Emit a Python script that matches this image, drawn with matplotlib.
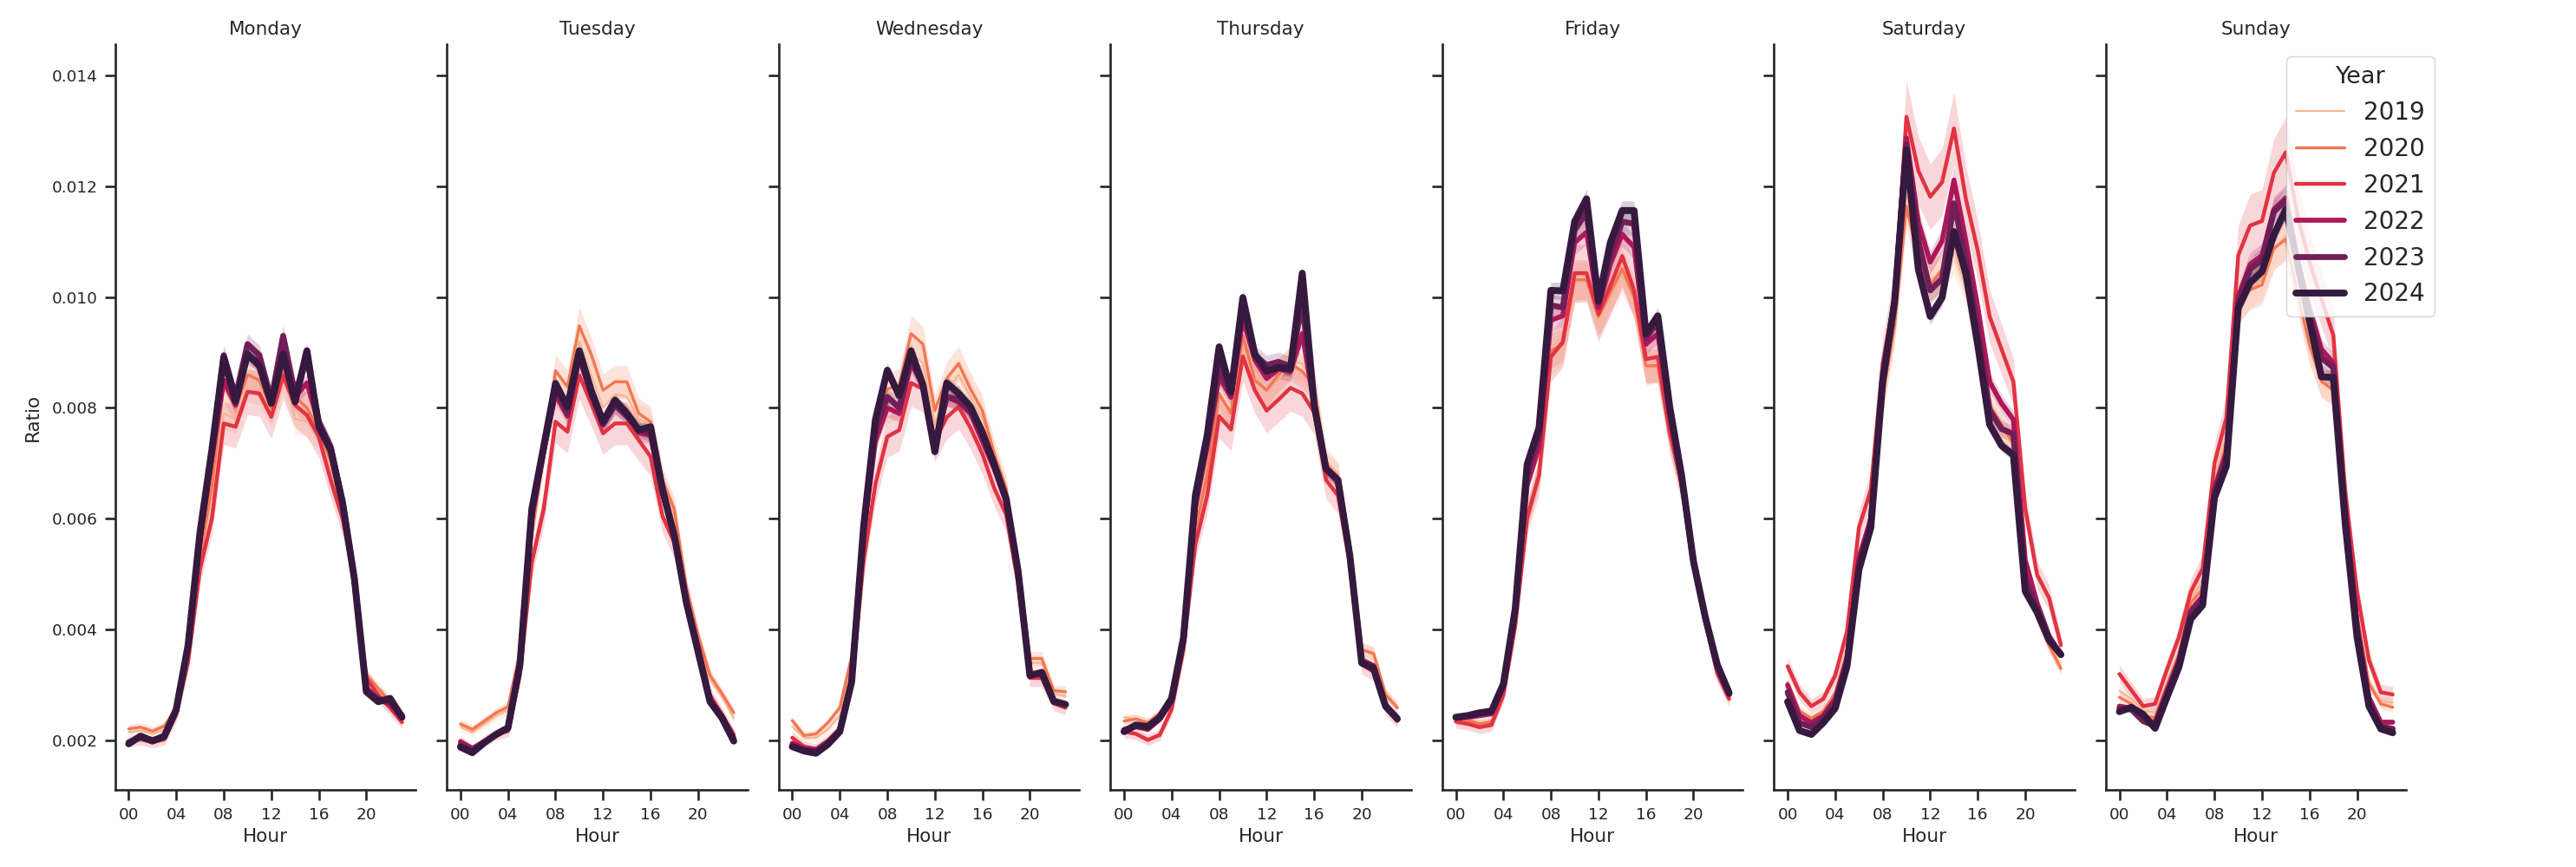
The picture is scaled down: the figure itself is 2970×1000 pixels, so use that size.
import numpy as np
import matplotlib.pyplot as plt

# Hourly share of daily volume, in units of 1e-4
hours = list(range(24))
days = ["Monday", "Tuesday", "Wednesday", "Thursday", "Friday", "Saturday", "Sunday"]
years = [2019, 2020, 2021, 2022, 2023, 2024]

monday = {
    2019: [21.5, 21.8, 21.2, 21.9, 25.5, 34.5, 52.0, 64.0, 79.0, 78.0, 84.0, 83.5, 79.5, 86.0, 78.0, 77.5, 75.0, 69.5, 61.0, 48.5, 31.5, 29.0, 27.0, 25.0],
    2020: [22.1, 22.4, 21.7, 22.6, 25.8, 35.5, 53.0, 66.0, 84.0, 80.0, 86.0, 85.0, 80.0, 87.0, 82.0, 80.0, 76.0, 70.5, 61.0, 48.5, 31.8, 29.4, 27.0, 24.7],
    2021: [19.8, 20.2, 19.7, 20.2, 24.7, 34.2, 50.9, 60.0, 77.2, 76.6, 82.9, 82.6, 78.4, 85.8, 80.5, 78.7, 74.8, 67.0, 60.0, 49.0, 31.2, 28.2, 25.9, 23.3],
    2022: [19.8, 20.5, 20.2, 20.5, 25.0, 36.5, 56.0, 71.0, 85.0, 80.5, 89.5, 88.5, 81.0, 90.0, 82.0, 84.5, 77.0, 72.5, 62.5, 49.0, 29.5, 27.5, 26.5, 24.0],
    2023: [19.6, 20.6, 20.0, 20.6, 25.5, 37.0, 57.0, 72.0, 89.5, 82.0, 91.5, 89.5, 81.5, 93.0, 82.5, 89.0, 77.5, 73.0, 63.0, 49.0, 29.0, 27.5, 27.0, 24.5],
    2024: [19.4, 20.8, 19.9, 20.8, 25.6, 37.2, 57.5, 72.4, 89.1, 81.1, 89.7, 87.6, 80.8, 89.7, 81.1, 90.3, 76.6, 72.4, 62.9, 49.1, 28.8, 27.0, 27.6, 24.2],
}
tuesday = {
    2019: [22.5, 21.5, 23.0, 24.5, 25.5, 35.0, 57.0, 71.0, 83.0, 81.0, 92.0, 86.0, 80.0, 82.5, 82.0, 78.0, 77.0, 66.5, 60.5, 47.0, 38.0, 31.0, 28.0, 24.0],
    2020: [23.0, 22.0, 23.5, 25.0, 26.1, 36.0, 57.0, 71.8, 86.7, 83.8, 94.8, 89.7, 83.2, 84.7, 84.7, 79.0, 77.5, 67.0, 61.7, 47.9, 39.0, 31.8, 28.5, 25.0],
    2021: [19.9, 18.1, 19.9, 21.1, 21.7, 31.8, 52.1, 61.7, 77.5, 75.7, 85.9, 80.8, 75.4, 77.2, 77.2, 74.2, 71.2, 60.5, 55.7, 46.1, 37.5, 28.2, 24.7, 21.1],
    2022: [19.8, 18.6, 19.8, 21.0, 22.0, 33.5, 60.0, 72.0, 82.5, 78.5, 89.0, 82.5, 77.0, 80.5, 79.0, 75.5, 75.0, 64.5, 57.0, 45.0, 36.0, 27.5, 24.5, 20.5],
    2023: [19.2, 18.2, 19.7, 21.0, 22.2, 33.8, 61.0, 72.5, 83.5, 79.0, 89.5, 82.5, 77.0, 80.5, 78.5, 76.0, 75.5, 65.0, 57.0, 45.0, 36.0, 27.0, 24.0, 20.0],
    2024: [18.8, 17.8, 19.6, 21.1, 22.3, 33.6, 61.7, 73.0, 84.4, 80.2, 90.3, 83.2, 77.5, 81.4, 79.0, 76.0, 76.6, 65.3, 56.9, 45.0, 36.0, 27.0, 24.1, 19.9],
}
wednesday = {
    2019: [22.5, 20.5, 20.5, 22.0, 24.5, 33.5, 57.0, 75.0, 80.0, 81.0, 90.0, 88.0, 77.0, 83.0, 86.0, 82.0, 78.0, 71.0, 64.0, 51.0, 34.0, 34.0, 28.5, 28.0],
    2020: [23.6, 20.9, 21.2, 23.2, 25.9, 35.2, 60.0, 77.0, 83.4, 84.1, 93.4, 91.5, 79.5, 85.3, 88.0, 83.4, 79.5, 71.7, 65.5, 51.5, 34.8, 34.8, 29.0, 28.8],
    2021: [20.5, 18.9, 18.5, 20.0, 22.0, 29.8, 52.3, 66.3, 74.8, 76.0, 84.5, 83.4, 74.0, 78.3, 80.2, 76.4, 71.7, 65.5, 60.8, 48.4, 31.3, 31.3, 26.7, 25.9],
    2022: [19.5, 18.6, 18.3, 19.8, 22.0, 31.0, 57.0, 74.0, 80.0, 79.0, 88.0, 84.0, 73.0, 82.0, 81.0, 79.0, 74.0, 69.0, 63.0, 50.5, 32.0, 32.0, 27.0, 26.5],
    2023: [19.0, 18.3, 18.0, 19.5, 21.8, 30.8, 58.0, 76.0, 82.0, 80.0, 89.0, 84.0, 73.0, 82.0, 81.5, 79.5, 75.0, 69.5, 63.5, 50.5, 32.0, 32.0, 27.0, 26.5],
    2024: [18.9, 18.1, 17.7, 19.3, 21.6, 30.6, 58.5, 77.9, 86.8, 82.2, 90.3, 84.1, 72.1, 84.5, 82.6, 80.2, 75.6, 69.8, 63.6, 50.7, 31.7, 32.3, 27.1, 26.5],
}
thursday = {
    2019: [24.2, 23.8, 23.2, 24.5, 27.0, 37.5, 60.0, 70.0, 82.0, 79.0, 93.0, 86.0, 83.0, 85.0, 88.5, 88.0, 84.5, 70.5, 68.0, 54.0, 36.5, 35.5, 28.5, 26.0],
    2020: [23.5, 23.9, 23.2, 24.9, 26.9, 38.0, 58.0, 68.0, 82.6, 79.0, 93.0, 85.0, 83.2, 86.0, 88.0, 86.6, 83.9, 69.7, 67.6, 53.5, 36.4, 35.7, 28.3, 25.9],
    2021: [21.6, 21.2, 20.1, 21.0, 25.6, 36.4, 55.4, 64.2, 78.5, 76.1, 89.3, 83.2, 79.5, 81.5, 83.6, 82.6, 79.2, 67.0, 64.2, 52.0, 33.7, 32.4, 25.9, 23.5],
    2022: [22.0, 22.5, 22.0, 23.8, 27.0, 38.0, 62.0, 73.0, 85.6, 81.9, 96.1, 88.7, 85.3, 87.0, 86.5, 93.4, 80.5, 69.0, 67.0, 53.4, 34.5, 33.5, 26.5, 24.2],
    2023: [21.8, 22.6, 22.3, 24.0, 27.3, 38.3, 63.0, 74.0, 87.3, 82.5, 98.2, 89.5, 87.7, 88.3, 87.5, 98.9, 80.5, 69.0, 67.0, 53.4, 34.2, 33.2, 26.3, 24.0],
    2024: [21.6, 22.8, 22.5, 24.2, 27.6, 38.5, 64.2, 75.1, 91.0, 82.9, 99.9, 89.7, 86.6, 87.3, 87.0, 104.3, 80.5, 69.0, 67.0, 53.4, 34.0, 33.0, 26.2, 23.9],
}
friday = {
    2019: [23.8, 23.8, 23.2, 23.5, 28.5, 41.5, 61.0, 68.5, 89.0, 91.0, 102.5, 103.0, 95.5, 100.0, 104.0, 99.5, 87.0, 87.5, 75.0, 66.0, 51.5, 41.5, 32.5, 27.8],
    2020: [23.6, 23.6, 23.0, 23.3, 28.6, 41.0, 60.5, 68.0, 90.3, 91.5, 103.1, 103.1, 96.5, 100.8, 105.1, 100.0, 87.6, 87.6, 75.2, 66.0, 51.5, 41.5, 32.3, 27.8],
    2021: [23.4, 23.0, 22.4, 22.8, 28.2, 40.7, 60.1, 67.8, 89.2, 91.9, 104.3, 104.3, 96.9, 102.0, 107.4, 101.2, 88.8, 89.2, 75.6, 66.3, 51.5, 41.4, 32.1, 27.5],
    2022: [24.0, 24.2, 24.5, 24.8, 29.5, 43.0, 66.0, 73.0, 95.8, 96.6, 109.8, 111.7, 98.1, 105.9, 111.3, 109.0, 91.5, 93.4, 78.5, 67.0, 52.0, 42.0, 33.2, 28.2],
    2023: [24.1, 24.4, 24.8, 25.1, 30.0, 43.5, 68.0, 75.0, 98.5, 98.1, 112.1, 115.2, 98.9, 107.4, 113.6, 113.2, 92.7, 95.4, 79.5, 67.5, 52.2, 42.1, 33.5, 28.4],
    2024: [24.2, 24.5, 25.0, 25.3, 30.2, 43.8, 69.8, 76.4, 101.2, 101.1, 113.6, 117.7, 99.3, 109.8, 115.6, 115.6, 93.4, 96.6, 80.2, 67.8, 52.3, 42.2, 33.7, 28.6],
}
saturday = {
    2019: [29.5, 25.0, 23.5, 25.0, 29.0, 37.0, 53.0, 60.0, 81.0, 95.0, 119.0, 109.0, 103.0, 104.0, 108.0, 102.0, 90.0, 79.0, 76.0, 73.0, 50.0, 42.0, 37.0, 33.0],
    2020: [30.4, 25.3, 24.0, 25.3, 28.5, 35.5, 52.0, 60.0, 82.0, 94.8, 116.4, 106.7, 102.0, 105.0, 110.1, 103.3, 90.6, 80.4, 77.0, 73.6, 50.8, 43.1, 37.2, 33.0],
    2021: [33.4, 28.7, 26.2, 27.5, 31.7, 39.7, 58.4, 65.2, 88.1, 99.9, 132.5, 122.8, 118.1, 120.7, 130.4, 117.7, 108.4, 96.5, 90.6, 84.7, 61.8, 49.9, 45.7, 37.2],
    2022: [30.0, 24.5, 23.2, 24.5, 27.5, 35.0, 53.0, 60.0, 86.0, 99.5, 128.7, 113.5, 106.3, 110.1, 121.1, 110.1, 98.2, 84.7, 80.8, 77.9, 52.5, 44.8, 38.9, 35.5],
    2023: [28.7, 23.2, 22.4, 24.0, 26.8, 34.2, 51.8, 59.2, 85.3, 99.3, 127.5, 110.1, 101.2, 103.3, 116.9, 106.7, 94.0, 79.6, 76.2, 75.3, 49.0, 43.9, 38.4, 35.5],
    2024: [27.0, 21.8, 21.1, 23.2, 25.8, 33.4, 50.8, 58.4, 84.7, 99.1, 126.6, 105.0, 96.5, 99.9, 111.8, 104.2, 91.4, 77.0, 73.2, 71.5, 46.9, 43.1, 38.1, 35.5],
}
sunday = {
    2019: [29.0, 27.5, 25.5, 25.0, 30.5, 36.0, 45.0, 49.0, 67.0, 75.0, 99.0, 101.5, 103.0, 108.5, 111.0, 101.0, 91.0, 85.0, 83.5, 63.0, 42.5, 30.5, 27.0, 26.8],
    2020: [27.8, 26.6, 24.5, 24.1, 30.0, 35.5, 44.8, 47.3, 65.8, 73.5, 98.5, 101.3, 102.2, 108.8, 110.4, 100.5, 91.4, 84.8, 83.2, 63.3, 42.7, 30.3, 26.6, 26.0],
    2021: [32.0, 29.1, 26.2, 26.6, 32.8, 38.6, 46.8, 51.0, 70.0, 78.2, 107.5, 112.9, 113.7, 122.4, 126.1, 114.6, 106.3, 99.7, 93.1, 65.0, 46.8, 34.5, 28.7, 28.3],
    2022: [26.2, 25.8, 23.7, 23.3, 29.0, 34.5, 43.5, 46.0, 65.5, 72.0, 100.1, 105.9, 107.5, 115.8, 117.9, 106.5, 98.0, 90.6, 88.1, 62.0, 41.1, 27.8, 23.3, 23.3],
    2023: [25.8, 25.6, 23.5, 22.6, 28.5, 34.0, 43.0, 45.5, 65.0, 71.0, 99.0, 105.0, 106.7, 115.4, 117.4, 105.5, 96.5, 89.0, 87.3, 61.0, 40.0, 27.0, 22.5, 22.1],
    2024: [25.2, 26.0, 24.7, 22.2, 27.8, 33.2, 41.9, 44.4, 63.8, 69.5, 98.0, 102.6, 104.6, 111.2, 115.8, 106.0, 95.6, 85.6, 85.5, 59.2, 38.6, 26.2, 22.1, 21.4],
}
day_data = [monday, tuesday, wednesday, thursday, friday, saturday, sunday]

# relative half-width of the confidence band for each year
ci_rel = [0.035, 0.035, 0.05, 0.02, 0.02, 0.015]

colors = ['#f6b48f', '#f37651', '#e13342', '#ad1759', '#701f57', '#35193e']
widths = [1.5, 2.4, 3.2, 4.1, 4.9, 5.7]
ink = '#262626'

plt.rcParams['font.family'] = ['DejaVu Sans']
plt.rcParams['text.color'] = ink
plt.rcParams['axes.labelcolor'] = ink
plt.rcParams['xtick.color'] = ink
plt.rcParams['ytick.color'] = ink

fig, axes = plt.subplots(1, 7, figsize=(29.7, 10), dpi=100, sharey=True)
fig.subplots_adjust(left=0.04465, right=0.93415, bottom=0.089, top=0.949, wspace=0.1037)

x = np.array(hours)
for ax, day, data in zip(axes, days, day_data):
    for yr, c, lw, r in zip(years, colors, widths, ci_rel):
        v = np.array(data[yr]) / 10000
        ax.fill_between(x, v * (1 - r), v * (1 + r), color=c, alpha=0.2, linewidth=0)
        ax.plot(x, v, color=c, linewidth=lw, label=str(yr), solid_capstyle='round')
    ax.set_title(day, fontsize=15.5, pad=8)
    ax.set_xlabel("Hour", fontsize=15.5, labelpad=4)
    ax.set_xlim(-1.15, 24.15)
    ax.set_ylim(0.00111, 0.01456)
    ax.set_xticks([0, 4, 8, 12, 16, 20])
    ax.set_xticklabels(["00", "04", "08", "12", "16", "20"])
    ax.set_yticks([0.002, 0.004, 0.006, 0.008, 0.010, 0.012, 0.014])
    ax.tick_params(labelsize=13.3, length=8.5, width=1.9, pad=6, color=ink)
    for side in ["top", "right"]:
        ax.spines[side].set_visible(False)
    for side in ["left", "bottom"]:
        ax.spines[side].set_linewidth(1.9)
        ax.spines[side].set_color(ink)

axes[0].set_ylabel("Ratio", fontsize=15.5, labelpad=8)
axes[0].yaxis.set_major_formatter(plt.FormatStrFormatter('%.3f'))

handles, labels = axes[0].get_legend_handles_labels()
leg = fig.legend(handles, labels, title="Year", loc="upper right",
                 bbox_to_anchor=(0.9451, 0.935), borderaxespad=0,
                 fontsize=20, title_fontsize=19.5, labelspacing=0.5,
                 frameon=True, edgecolor='0.8')

fig.savefig("out.png", dpi=100)
